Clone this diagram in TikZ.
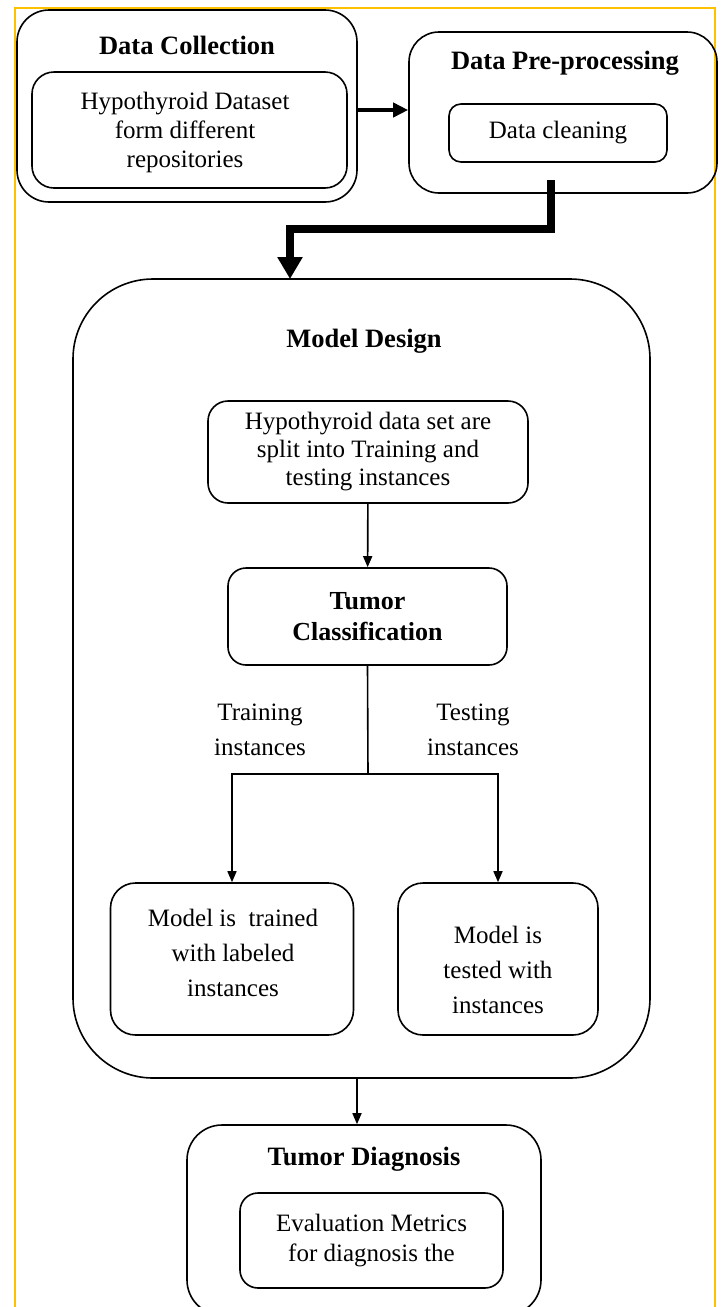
\documentclass[tikz,border=0pt]{standalone}
\usepackage{fontspec}
\setmainfont{Liberation Serif}
\usetikzlibrary{arrows.meta}
\begin{document}
\begin{tikzpicture}[x=1pt,y=-1pt,
  box/.style={draw, line width=1.6pt, minimum width=#1, inner sep=0pt, align=center},
  ttl/.style={font=\bfseries\fontsize{26.5}{31}\selectfont, inner sep=0pt},
  txt/.style={font=\fontsize{25}{#1}\selectfont, align=center, inner sep=0pt},
  thin/.style={line width=1.6pt, -{Triangle[length=11pt,width=9pt]}},
  plain/.style={line width=1.6pt}
]
\useasboundingbox (0,0) rectangle (722,1307);
\clip (0,0) rectangle (722,1307);
% yellow frame
\draw[line width=2pt, color={rgb,255:red,255;green,192;blue,0}] (15,1320) -- (15,8) -- (715,8) -- (715,1320);

% Data Collection
\node[box=340pt, minimum height=192pt, rounded corners=32pt] (dc) at (187,106) {};
\node[ttl] (dct) at (187,45) {Data Collection};
\node[box=315pt, minimum height=116pt, rounded corners=22pt] (dci) at (189.5,130) {};
\node[txt=29pt] (dcit) at (185,132) {Hypothyroid Dataset\\form different\\repositories};

% Data Pre-processing
\node[box=308pt, minimum height=161pt, rounded corners=30pt] (dp) at (563,112.5) {};
\node[ttl] (dpt) at (565,63) {Data Pre-processing};
\node[box=218pt, minimum height=58pt, rounded corners=12pt, txt=29pt] (dpi) at (558,133) {Data cleaning};

\draw[line width=4pt, -{Triangle[length=15pt,width=14pt]}] (dc.east |- 0,110) -- (dp.west |- 0,110);

% Model Design
\node[box=577pt, minimum height=799pt, rounded corners=80pt] (md) at (361.5,678.5) {};
\node[ttl] (mdt) at (364,341) {Model Design};

\coordinate (dpout) at (551,180);
\coordinate (mdin) at (290,279);
\draw[line width=8pt, -{Triangle[length=22pt,width=24pt]}] (dpout) |- (290,229) -- (mdin);

\node[box=320pt, minimum height=102pt, rounded corners=20pt, txt=28pt] (sp) at (368,452) {Hypothyroid data set are\\split into Training and\\testing instances};
\node[box=279pt, minimum height=97pt, rounded corners=18pt, font=\bfseries\fontsize{26}{31}\selectfont] (tc) at (367.5,616.5) {Tumor\\Classification};
\draw[thin] (sp) -- (tc);

\node[box=243pt, minimum height=152pt, rounded corners=25pt] (tr) at (232,959) {};
\node[txt=35pt] (trt) at (233,953) {Model is\enspace trained\\with labeled\\instances};
\node[box=200pt, minimum height=152pt, rounded corners=25pt] (te) at (498,959) {};
\node[txt=35pt] (tet) at (498,970) {Model is\\tested with\\instances};

\coordinate (split) at (368,774);
\draw[plain] (tc.south) -- (split);
\draw[thin] (split) -| (tr.north);
\draw[thin] (split) -| (te.north);

\node[txt=35pt] (trl) at (260,730) {Training\\instances};
\node[txt=35pt] (tel) at (473,730) {Testing\\instances};

% Tumor Diagnosis
\node[box=354pt, minimum height=190pt, rounded corners=35pt] (td) at (364,1220) {};
\node[ttl] (tdt) at (364,1159) {Tumor Diagnosis};
\node[box=263pt, minimum height=95pt, rounded corners=18pt, txt=30pt] (tdi) at (371.5,1240.5) {Evaluation Metrics\\for diagnosis the};

\draw[thin] (md.south -| 357,0) -- (td.north -| 357,0);
\end{tikzpicture}
\end{document}
